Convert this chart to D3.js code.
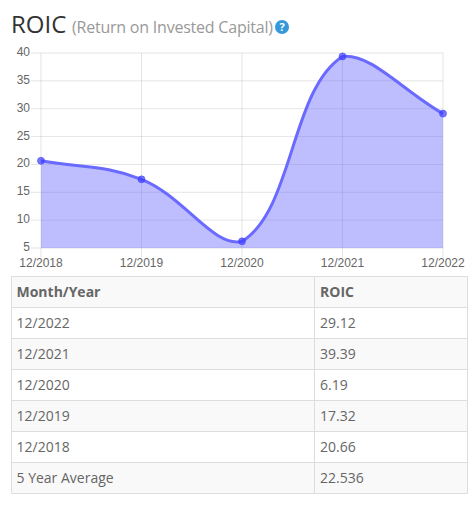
<!DOCTYPE html>
<html><head><meta charset="utf-8">
<script src="https://cdnjs.cloudflare.com/ajax/libs/d3/7.8.5/d3.min.js"></script>
<style>html,body{margin:0;padding:0;background:#fff}svg{display:block}</style>
</head><body><svg id="c" width="475" height="510"></svg>
<script>
const periods = ["12/2018","12/2019","12/2020","12/2021","12/2022"];
const roic = [20.66,17.32,6.19,39.39,29.12];
const yTicks = [5,10,15,20,25,30,35,40];
const tableHead = ["Month/Year","ROIC"];
const rowLabels = ["12/2022","12/2021","12/2020","12/2019","12/2018","5 Year Average"];
const rowValues = ["29.12","39.39","6.19","17.32","20.66","22.536"];

const svg = d3.select("#c");
const x = d3.scalePoint().domain(periods).range([41,443]);
const y = d3.scaleLinear().domain([5,40]).range([248,53]);
const grid = "rgba(0,0,0,0.1)";

// spline used by the original chart (tension 0.4, distance weighted, controls capped to the plot area)
function SplineCurve(ctx){this._c=ctx;}
SplineCurve.prototype={
  areaStart(){this._line=0;},
  areaEnd(){this._line=NaN;},
  lineStart(){this._p=[];},
  point(a,b){this._p.push([+a,+b]);},
  lineEnd(){
    const p=this._p,c=this._c,t=0.4,n=p.length;
    if(!n)return;
    if(this._line)c.lineTo(p[0][0],p[0][1]);else c.moveTo(p[0][0],p[0][1]);
    const cap=v=>Math.min(y(5),Math.max(y(40),v));
    const ctrl=p.map((q,i)=>{
      const a=p[Math.max(i-1,0)],b=p[Math.min(i+1,n-1)];
      const d1=Math.hypot(q[0]-a[0],q[1]-a[1]),d2=Math.hypot(b[0]-q[0],b[1]-q[1]);
      const s=d1+d2||1,fa=t*d1/s,fb=t*d2/s;
      return {prev:[q[0]-fa*(b[0]-a[0]),cap(q[1]-fa*(b[1]-a[1]))],next:[q[0]+fb*(b[0]-a[0]),cap(q[1]+fb*(b[1]-a[1]))]};
    });
    for(let i=1;i<n;i++)c.bezierCurveTo(ctrl[i-1].next[0],ctrl[i-1].next[1],ctrl[i].prev[0],ctrl[i].prev[1],p[i][0],p[i][1]);
    this._line=1;
  }
};
const spline=ctx=>new SplineCurve(ctx);

// title
const title=svg.append("text").attr("x",11).attr("y",33).attr("font-family","'Open Sans'");
title.append("tspan").attr("font-size",24).attr("fill","#333").text("ROIC");
title.append("tspan").attr("x",72).attr("font-size",16).attr("fill","#999").attr("textLength",201).text("(Return on Invested Capital)");
svg.append("circle").attr("cx",282).attr("cy",27).attr("r",7).attr("fill","#3498db");
svg.append("text").attr("x",282).attr("y",31).attr("text-anchor","middle").attr("font-family","'Open Sans'")
  .attr("font-weight",700).attr("font-size",11).attr("fill","#fff").text("?");

// grid
svg.append("g").selectAll("line").data(yTicks).join("line")
  .attr("x1",31).attr("x2",443).attr("y1",d=>y(d)).attr("y2",d=>y(d)).attr("stroke",grid);
svg.append("g").selectAll("line").data(periods).join("line")
  .attr("x1",d=>x(d)).attr("x2",d=>x(d)).attr("y1",53).attr("y2",257).attr("stroke",grid);

// area, line, points
const pts=periods.map((p,i)=>({p,v:roic[i]}));
svg.append("path").datum(pts).attr("fill","rgba(100,100,255,0.42)")
  .attr("d",d3.area().x(d=>x(d.p)).y0(y(5)).y1(d=>y(d.v)).curve(spline));
svg.append("path").datum(pts).attr("fill","none").attr("stroke","#6a6aff").attr("stroke-width",3)
  .attr("d",d3.line().x(d=>x(d.p)).y(d=>y(d.v)).curve(spline));
svg.append("g").selectAll("circle").data(pts).join("circle")
  .attr("cx",d=>x(d.p)).attr("cy",d=>y(d.v)).attr("r",3.5)
  .attr("fill","rgba(60,60,255,0.7)").attr("stroke","rgba(70,70,255,0.6)").attr("stroke-width",1);

// axis labels
svg.append("g").selectAll("text").data(yTicks).join("text")
  .attr("x",30).attr("y",d=>y(d)+3).attr("text-anchor","end")
  .attr("font-family","'Liberation Sans'").attr("font-size",12).attr("fill","#666").text(d=>d);
svg.append("g").selectAll("text").data(periods).join("text")
  .attr("x",d=>x(d)).attr("y",267).attr("text-anchor","middle")
  .attr("font-family","'Liberation Sans'").attr("font-size",12).attr("fill","#666").text(d=>d);

// table
const tx0=11.5,tx1=314.5,tx2=467.5,ty0=276.5,rh=31;
const rows=[tableHead].concat(rowLabels.map((l,i)=>[l,rowValues[i]]));
const ry=d3.scaleLinear().domain([0,rows.length]).range([ty0,ty0+rh*rows.length]);
const tg=svg.append("g");
tg.selectAll("rect").data(rows).join("rect")
  .attr("x",tx0).attr("y",(d,i)=>ry(i)).attr("width",tx2-tx0).attr("height",rh)
  .attr("fill",(d,i)=>i%2===0?"#f9f9f9":"#fff");
tg.selectAll("line.h").data(d3.range(rows.length+1)).join("line").attr("class","h")
  .attr("x1",tx0).attr("x2",tx2).attr("y1",d=>ry(d)).attr("y2",d=>ry(d)).attr("stroke","#ddd");
tg.selectAll("line.v").data([tx0,tx1,tx2]).join("line").attr("class","v")
  .attr("x1",d=>d).attr("x2",d=>d).attr("y1",ty0).attr("y2",ry(rows.length)).attr("stroke","#ddd");
[0,1].forEach(col=>{
  tg.append("g").selectAll("text").data(rows).join("text")
    .attr("x",col?320:16.5).attr("y",(d,i)=>ry(i)+20.5)
    .attr("font-family","'Open Sans'").attr("font-size",14)
    .attr("font-weight",(d,i)=>i===0?700:400).attr("fill","#666").text(d=>d[col]);
});
</script></body></html>
